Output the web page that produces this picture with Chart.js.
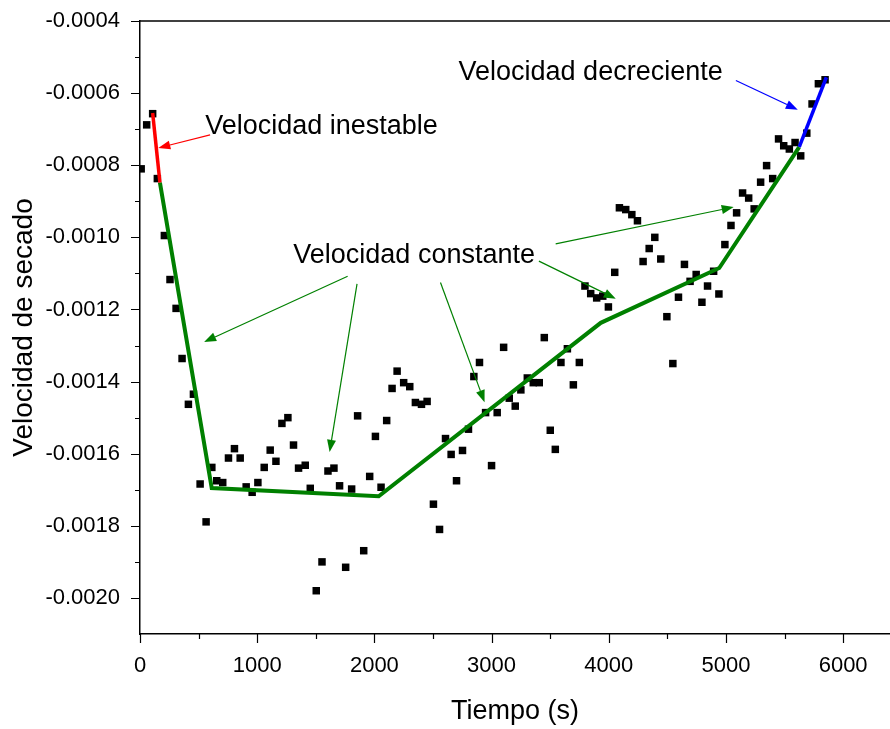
<!DOCTYPE html>
<html>
<head>
<meta charset="utf-8">
<script src="https://cdn.jsdelivr.net/npm/chart.js@4.4.1/dist/chart.umd.min.js"></script>
<style>
  html, body { margin: 0; padding: 0; background: #fff; }
  #wrap { width: 890px; height: 729px; }
</style>
</head>
<body>
<div id="wrap"><canvas id="secado"></canvas></div>
<script>
// Medidas de la velocidad de secado (s, velocidad)
var tiempo = [
    10, 57, 108, 148, 208, 256, 308, 359, 413, 456,
    513, 564, 613, 655, 706, 755, 806, 855, 906, 957,
    1006, 1060, 1111, 1160, 1211, 1262, 1310, 1353, 1410, 1453,
    1504, 1553, 1604, 1655, 1703, 1755, 1806, 1857, 1909, 1960,
    2009, 2057, 2105, 2151, 2194, 2250, 2302, 2350, 2402, 2450,
    2504, 2556, 2607, 2655, 2701, 2752, 2803, 2849, 2897, 2949,
    3000, 3048, 3103, 3151, 3202, 3250, 3305, 3356, 3407, 3450,
    3501, 3544, 3592, 3647, 3698, 3749, 3797, 3846, 3897, 3949,
    3997, 4051, 4091, 4145, 4197, 4245, 4293, 4345, 4393, 4444,
    4496, 4547, 4595, 4646, 4694, 4746, 4795, 4843, 4895, 4940,
    4991, 5043, 5091, 5142, 5194, 5241, 5296, 5347, 5399, 5449,
    5493, 5541, 5590, 5638, 5690, 5735, 5789, 5846
];
var velocidad = [
    -0.000810, -0.000688, -0.000657, -0.000837, -0.000995, -0.001117, -0.001197, -0.001336, -0.001463, -0.001435,
    -0.001684, -0.001789, -0.001638, -0.001675, -0.001680, -0.001612, -0.001586, -0.001612, -0.001692, -0.001707,
    -0.001680, -0.001638, -0.001590, -0.001621, -0.001516, -0.001500, -0.001576, -0.001640, -0.001632, -0.001696,
    -0.001980, -0.001900, -0.001648, -0.001640, -0.001689, -0.001915, -0.001698, -0.001495, -0.001869, -0.001663,
    -0.001552, -0.001693, -0.001508, -0.001419, -0.001371, -0.001403, -0.001414, -0.001458, -0.001463, -0.001455,
    -0.001740, -0.001810, -0.001558, -0.001602, -0.001675, -0.001591, -0.001532, -0.001386, -0.001347, -0.001486,
    -0.001633, -0.001486, -0.001305, -0.001446, -0.001468, -0.001423, -0.001390, -0.001403, -0.001403, -0.001278,
    -0.001535, -0.001588, -0.001347, -0.001309, -0.001409, -0.001347, -0.001135, -0.001156, -0.001168, -0.001163,
    -0.001193, -0.001097, -0.000918, -0.000923, -0.000937, -0.000954, -0.001067, -0.001031, -0.001000, -0.001060,
    -0.001220, -0.001350, -0.001166, -0.001075, -0.001122, -0.001103, -0.001180, -0.001135, -0.001094, -0.001157,
    -0.001020, -0.000967, -0.000932, -0.000877, -0.000891, -0.000921, -0.000847, -0.000801, -0.000837, -0.000727,
    -0.000746, -0.000755, -0.000737, -0.000774, -0.000711, -0.000630, -0.000574, -0.000563
];

// Tramos ajustados de cada etapa
var inestableX = [108, 170];
var inestableY = [-0.000655, -0.000848];
var constanteX = [170, 612, 2037, 3932, 4943, 5625];
var constanteY = [-0.000848, -0.001695, -0.001718, -0.001237, -0.001085, -0.000750];
var decrecienteX = [5625, 5857];
var decrecienteY = [-0.000750, -0.000556];

// Marcas de los ejes
var xTicks = [0, 1000, 2000, 3000, 4000, 5000, 6000];
var xMinor = [500, 1500, 2500, 3500, 4500, 5500];
var yTicks = [-0.0020, -0.0018, -0.0016, -0.0014, -0.0012, -0.0010, -0.0008, -0.0006, -0.0004];
var yMinor = [-0.0019, -0.0017, -0.0015, -0.0013, -0.0011, -0.0009, -0.0007, -0.0005];

var fuente = '"Liberation Sans", Arial, Helvetica, sans-serif';

// Etiquetas y flechas (en unidades de los ejes)
var textos = [
    { texto: 'Velocidad inestable', x: 556, y: -0.000713 },
    { texto: 'Velocidad decreciente', x: 2718, y: -0.000563 },
    { texto: 'Velocidad constante', x: 1308, y: -0.001070 }
];
var flechas = [
    { desde: [598, -0.000716], hasta: [156, -0.000752], color: '#ff0000' },
    { desde: [5085, -0.000565], hasta: [5613, -0.000646], color: '#0000ff' },
    { desde: [1772, -0.001108], hasta: [547, -0.001290], color: '#008000' },
    { desde: [1852, -0.001129], hasta: [1618, -0.001595], color: '#008000' },
    { desde: [2564, -0.001125], hasta: [2940, -0.001457], color: '#008000' },
    { desde: [3547, -0.001018], hasta: [5066, -0.000916], color: '#008000' },
    { desde: [3404, -0.001066], hasta: [4060, -0.001170], color: '#008000' }
];

function pares(xs, ys) {
    return xs.map(function(x, i) { return { x: x, y: ys[i] }; });
}

var decoraciones = {
    id: 'decoraciones',
    afterDraw: function(chart) {
        var ctx = chart.ctx;
        var sx = chart.scales.x, sy = chart.scales.y;
        var area = chart.chartArea;
        ctx.save();

        // borde superior
        ctx.strokeStyle = '#000';
        ctx.lineWidth = 1.5;
        ctx.beginPath();
        ctx.moveTo(area.left, area.top);
        ctx.lineTo(area.right, area.top);
        ctx.stroke();

        // marcas de los ejes, mayores y menores
        ctx.lineWidth = 1.2;
        ctx.beginPath();
        function marcaX(v, largo) {
            var px = Math.round(sx.getPixelForValue(v)) + 0.5;
            ctx.moveTo(px, area.bottom);
            ctx.lineTo(px, area.bottom + largo);
        }
        function marcaY(v, largo) {
            var py = Math.round(sy.getPixelForValue(v)) + 0.5;
            ctx.moveTo(area.left, py);
            ctx.lineTo(area.left - largo, py);
        }
        xTicks.forEach(function(v) { marcaX(v, 9); });
        xMinor.forEach(function(v) { marcaX(v, 5); });
        yTicks.forEach(function(v) { marcaY(v, 9); });
        yMinor.forEach(function(v) { marcaY(v, 5); });
        ctx.stroke();

        // flechas
        flechas.forEach(function(f) {
            var x0 = sx.getPixelForValue(f.desde[0]), y0 = sy.getPixelForValue(f.desde[1]);
            var x1 = sx.getPixelForValue(f.hasta[0]), y1 = sy.getPixelForValue(f.hasta[1]);
            var ang = Math.atan2(y1 - y0, x1 - x0);
            var largo = 12, ancho = 4.5;
            var bx = x1 - largo * Math.cos(ang), by = y1 - largo * Math.sin(ang);
            ctx.strokeStyle = f.color;
            ctx.fillStyle = f.color;
            ctx.lineWidth = 1.2;
            ctx.beginPath();
            ctx.moveTo(x0, y0);
            ctx.lineTo(bx, by);
            ctx.stroke();
            ctx.beginPath();
            ctx.moveTo(x1, y1);
            ctx.lineTo(bx + ancho * Math.sin(ang), by - ancho * Math.cos(ang));
            ctx.lineTo(bx - ancho * Math.sin(ang), by + ancho * Math.cos(ang));
            ctx.closePath();
            ctx.fill();
        });

        // textos
        ctx.fillStyle = '#000';
        ctx.font = '27px ' + fuente;
        ctx.textAlign = 'left';
        ctx.textBaseline = 'alphabetic';
        textos.forEach(function(t) {
            ctx.fillText(t.texto, sx.getPixelForValue(t.x), sy.getPixelForValue(t.y));
        });
        ctx.restore();
    }
};

new Chart(document.getElementById('secado'), {
    type: 'scatter',
    data: {
        datasets: [{
            label: 'Velocidad inestable',
            data: pares(inestableX, inestableY),
            showLine: true,
            borderColor: '#ff0000',
            borderWidth: 3.5,
            pointRadius: 0
        }, {
            label: 'Velocidad constante',
            data: pares(constanteX, constanteY),
            showLine: true,
            borderColor: '#008000',
            borderWidth: 4,
            pointRadius: 0
        }, {
            label: 'Velocidad decreciente',
            data: pares(decrecienteX, decrecienteY),
            showLine: true,
            borderColor: '#0000ff',
            borderWidth: 3.5,
            pointRadius: 0
        }, {
            label: 'Velocidad de secado',
            data: pares(tiempo, velocidad),
            pointStyle: 'rect',
            pointRadius: 5.3,
            backgroundColor: '#000',
            borderWidth: 0
        }]
    },
    options: {
        responsive: true,
        maintainAspectRatio: false,
        animation: false,
        layout: { autoPadding: false, padding: { top: 21, right: 0, bottom: 0, left: 0 } },
        plugins: {
            legend: { display: false },
            tooltip: { enabled: false }
        },
        scales: {
            x: {
                type: 'linear',
                min: 0,
                max: 6400,
                afterBuildTicks: function(s) { s.ticks = xTicks.map(function(v) { return { value: v }; }); },
                afterFit: function(s) { s.height = 95; },
                border: { display: true, color: '#000', width: 1.5 },
                grid: { drawOnChartArea: false, tickLength: 9, tickColor: 'rgba(0,0,0,0)' },
                ticks: {
                    color: '#000',
                    font: { family: fuente, size: 22 },
                    padding: 10,
                    maxRotation: 0,
                    autoSkip: false,
                    callback: function(v) { return String(v); }
                },
                title: {
                    display: true,
                    text: 'Tiempo (s)',
                    color: '#000',
                    font: { family: fuente, size: 27 },
                    padding: { top: 0, bottom: 1 }
                }
            },
            y: {
                type: 'linear',
                min: -0.0021,
                max: -0.0004,
                afterBuildTicks: function(s) { s.ticks = yTicks.map(function(v) { return { value: v }; }); },
                afterFit: function(s) { s.width = 140; },
                border: { display: true, color: '#000', width: 1.5 },
                grid: { drawOnChartArea: false, tickLength: 13, tickColor: 'rgba(0,0,0,0)' },
                ticks: {
                    color: '#000',
                    font: { family: fuente, size: 22 },
                    padding: 7,
                    autoSkip: false,
                    callback: function(v) { return v.toFixed(4); }
                },
                title: {
                    display: true,
                    text: 'Velocidad de secado',
                    color: '#000',
                    font: { family: fuente, size: 28 },
                    padding: { top: 7, bottom: 0 }
                }
            }
        }
    },
    plugins: [decoraciones]
});
</script>
</body>
</html>
